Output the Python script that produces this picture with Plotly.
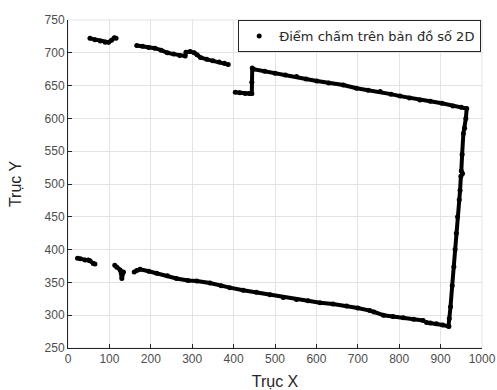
import plotly.graph_objects as go

# Segment readings (data coordinates)
seg_a_x = [53, 65, 78, 90, 98, 105, 112, 116]
seg_a_y = [722, 720, 718, 716, 716, 719, 723, 722]

seg_b_x = [166, 180, 195, 210, 225, 240, 255, 270, 283, 285, 295, 305, 312, 320, 335, 350, 365, 378, 387]
seg_b_y = [711, 710, 708, 707, 704, 700, 698, 696, 695, 701, 702, 700, 697, 693, 690, 688, 686, 684, 682]

seg_c_x = [404, 415, 428, 438, 444, 444, 445, 448, 475, 500, 525, 552, 575, 601, 630, 665, 697, 725, 754, 780, 802,
           825, 850, 875, 903, 930, 950, 963, 961, 958, 955, 952, 950, 953, 949, 947, 945, 941, 938, 935, 932,
           928, 924, 921, 920, 919, 905, 890, 875, 866]
seg_c_y = [640, 639, 638, 638, 638, 655, 677, 675, 672, 669, 666, 664, 660, 657, 654, 651, 646, 643, 641, 637, 634,
           631, 628, 626, 623, 619, 617, 615, 600, 585, 577, 545, 520, 516, 512, 490, 476, 450, 425, 400, 374,
           345, 313, 295, 283, 283, 285, 287, 288, 289]

seg_d_x = [858, 835, 810, 785, 762, 739, 729, 700, 673, 640, 609, 580, 552, 520, 488, 455, 423, 391,
           370, 343, 311, 290, 262, 240, 214, 195, 174, 166]
seg_d_y = [292, 294, 296, 298, 300, 305, 307, 311, 314, 317, 319, 322, 324, 327, 331, 335, 338, 342,
           345, 349, 352, 353, 356, 360, 364, 367, 370, 368]

seg_e_x = [160]
seg_e_y = [366]

seg_f_x = [113, 118, 126, 130, 134]
seg_f_y = [376, 373, 369, 356, 366]

seg_g_x = [23, 30, 41, 49, 53, 61, 65]
seg_g_y = [387, 386, 384, 384, 383, 379, 378]

x_ticks = [0, 100, 200, 300, 400, 500, 600, 700, 800, 900, 1000]
y_ticks = [250, 300, 350, 400, 450, 500, 550, 600, 650, 700, 750]

legend_label = "Điểm chấm trên bản đồ số 2D"
x_title = "Trục X"
y_title = "Trục Y"

fig = go.Figure()
for sx, sy in [(seg_a_x, seg_a_y), (seg_b_x, seg_b_y), (seg_c_x, seg_c_y),
               (seg_d_x, seg_d_y), (seg_e_x, seg_e_y), (seg_f_x, seg_f_y), (seg_g_x, seg_g_y)]:
    fig.add_trace(go.Scatter(x=sx, y=sy, mode="lines+markers",
                             line=dict(color="black", width=4),
                             marker=dict(color="black", size=5),
                             showlegend=False, hoverinfo="skip"))

fig.add_trace(go.Scatter(x=[None], y=[None], mode="markers", name=legend_label,
                         marker=dict(color="black", size=5), showlegend=True))

tick_font = dict(family="Liberation Sans, Arial, sans-serif", size=12, color="#4d4d4d")
title_font = dict(family="Liberation Sans, Arial, sans-serif", size=16, color="#262626")

axis_common = dict(showgrid=True, gridcolor="#e3e3e3", gridwidth=1,
                   showline=True, linecolor="#262626", linewidth=1,
                   ticks="inside", ticklen=4, tickcolor="#262626",
                   tickfont=tick_font, automargin=False, ticklabeloverflow="allow",
                   zeroline=False, mirror=False)

fig.update_xaxes(range=[0, 1000], tickvals=x_ticks, **axis_common,
                 title=dict(text=x_title, standoff=12, font=title_font))
fig.update_yaxes(range=[250, 750], tickvals=y_ticks, **axis_common,
                 title=dict(text=y_title, standoff=18, font=title_font))

fig.add_shape(type="rect", xref="paper", yref="paper", x0=0, y0=0, x1=1, y1=1,
              line=dict(color="#e3e3e3", width=1), layer="below")

fig.update_layout(
    width=497, height=390,
    margin=dict(l=68, r=15, t=20, b=42),
    plot_bgcolor="white", paper_bgcolor="white",
    legend=dict(x=0.998, y=1.0, xanchor="right", yanchor="top",
                bgcolor="white", bordercolor="#262626", borderwidth=1,
                font=dict(family="DejaVu Sans, sans-serif", size=13, color="#262626"),
                itemwidth=30, tracegroupgap=0),
    showlegend=True,
)

fig.write_html("out.html", config={"displayModeBar": False},
               post_script="document.body.style.margin='0';document.body.style.overflow='hidden';")
